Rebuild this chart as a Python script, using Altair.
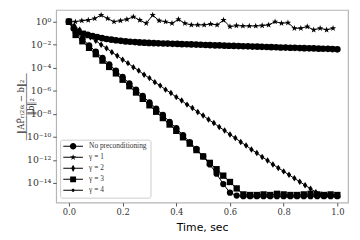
import altair as alt
import pandas as pd

SERIES = ["No preconditioning", "γ = 1", "γ = 2", "γ = 3", "γ = 4"]

# No preconditioning (circles)
t_np = [0, 0.018, 0.035, 0.053, 0.070, 0.088, 0.105, 0.123, 0.140, 0.158,
        0.175, 0.193, 0.211, 0.228, 0.246, 0.263, 0.281, 0.298, 0.316, 0.333,
        0.351, 0.368, 0.386, 0.404, 0.421, 0.439, 0.456, 0.474, 0.491, 0.509,
        0.526, 0.544, 0.561, 0.579, 0.596, 0.614, 0.632, 0.649, 0.667, 0.684,
        0.702, 0.719, 0.737, 0.754, 0.772, 0.789, 0.807, 0.825, 0.842, 0.860,
        0.877, 0.895, 0.912, 0.930, 0.947, 0.965, 0.982, 1.000]
log_np = [0, -0.6, -0.9, -1.05, -1.15, -1.25, -1.33, -1.42, -1.5, -1.56,
          -1.61, -1.66, -1.71, -1.74, -1.77, -1.8, -1.82, -1.84, -1.86, -1.88,
          -1.89, -1.9, -1.92, -1.93, -1.95, -1.96, -1.97, -1.99, -2.0, -2.02,
          -2.03, -2.05, -2.06, -2.08, -2.09, -2.1, -2.12, -2.13, -2.14, -2.16,
          -2.17, -2.18, -2.2, -2.21, -2.22, -2.24, -2.25, -2.26, -2.27, -2.29,
          -2.3, -2.31, -2.32, -2.34, -2.35, -2.36, -2.38, -2.4]

# gamma = 1 (stars)
t_g1 = [0, 0.024, 0.048, 0.072, 0.096, 0.12, 0.144, 0.168, 0.192, 0.216,
        0.24, 0.264, 0.288, 0.312, 0.336, 0.36, 0.384, 0.408, 0.432, 0.456,
        0.48, 0.504, 0.528, 0.552, 0.576, 0.6, 0.624, 0.648, 0.672, 0.696,
        0.72, 0.744, 0.768, 0.792, 0.816, 0.84, 0.864, 0.888, 0.912, 0.936,
        0.96, 0.984]
log_g1 = [0, 0, 0.09, 0.14, 0.28, 0.57, 0.28, 0, 0.09, 0.2,
          0.43, 0.14, -0.14, 0.57, 0.09, 0, -0.14, 0.2, -0.14, -0.28,
          -0.28, -0.28, -0.2, -0.28, 0.14, -0.43, -0.34, -0.37, -0.37, -0.37,
          -0.34, -0.28, 0, -0.14, -0.09, -0.57, -0.57, -0.43, -0.71, -0.57,
          -0.71, -0.57]

# gamma = 2 (thin diamonds)
t_g2 = [0, 0.02, 0.04, 0.06, 0.08, 0.10, 0.12, 0.14, 0.16, 0.18,
        0.20, 0.22, 0.24, 0.26, 0.28, 0.30, 0.32, 0.34, 0.36, 0.38,
        0.40, 0.42, 0.44, 0.46, 0.48, 0.50, 0.52, 0.54, 0.56, 0.58,
        0.60, 0.62, 0.64, 0.66, 0.68, 0.70, 0.72, 0.74, 0.76, 0.78,
        0.80, 0.82, 0.84, 0.86, 0.88, 0.90, 0.92, 0.94, 0.96, 0.98, 1.00]
log_g2 = [0, -0.35, -0.7, -1.0, -1.35, -1.65, -2.0, -2.3, -2.65, -2.95,
          -3.3, -3.6, -3.95, -4.25, -4.6, -4.9, -5.25, -5.55, -5.9, -6.2,
          -6.55, -6.85, -7.2, -7.5, -7.85, -8.15, -8.5, -8.8, -9.15, -9.45,
          -9.8, -10.1, -10.45, -10.75, -11.1, -11.4, -11.75, -12.05, -12.4, -12.7,
          -13.0, -13.3, -13.6, -13.9, -14.2, -14.5, -14.8, -15.0, -15.05, -15.1, -15.1]

# gamma = 3 (squares)
t_g3 = [0, 0.025, 0.05, 0.075, 0.1, 0.125, 0.15, 0.175, 0.2, 0.225,
        0.25, 0.275, 0.3, 0.325, 0.35, 0.375, 0.4, 0.425, 0.45, 0.475,
        0.5, 0.525, 0.55, 0.575, 0.6, 0.625, 0.65, 0.675, 0.7, 0.725,
        0.75, 0.775, 0.8, 0.825, 0.85, 0.875, 0.9, 0.925, 0.95, 0.975, 1.0]
log_g3 = [0, -1.15, -1.7, -2.27, -2.82, -3.38, -3.93, -4.49, -5.04, -5.6,
          -6.15, -6.7, -7.26, -7.82, -8.37, -8.93, -9.48, -10.04, -10.59, -11.15,
          -11.7, -12.26, -12.81, -13.37, -13.92, -14.48, -15.0, -15.05, -15.05, -15.0,
          -15.05, -14.95, -15.0, -15.05, -15.05, -15.0, -14.95, -15.0, -15.05, -15.0, -15.05]

# gamma = 4 (small dots)
t_g4 = [0, 0.025, 0.05, 0.075, 0.1, 0.125, 0.15, 0.175, 0.2, 0.225,
        0.25, 0.275, 0.3, 0.325, 0.35, 0.375, 0.4, 0.425, 0.45, 0.475,
        0.5, 0.525, 0.55, 0.575, 0.6, 0.625, 0.65, 0.675, 0.7, 0.725,
        0.75, 0.775, 0.8, 0.825, 0.85, 0.875, 0.9, 0.925, 0.95, 0.975, 1.0]
log_g4 = [0, -0.9, -1.5, -2.05, -2.6, -3.15, -3.7, -4.25, -4.8, -5.35,
          -5.9, -6.45, -7.0, -7.55, -8.1, -8.7, -9.25, -9.85, -10.45, -11.05,
          -11.7, -12.4, -13.2, -14.1, -14.85, -15.1, -15.15, -15.15, -15.15, -15.15,
          -15.15, -15.15, -15.15, -15.15, -15.15, -15.15, -15.15, -15.15, -15.15, -15.15, -15.15]

Y_TICK_EXPONENTS = [0, -2, -4, -6, -8, -10, -12, -14]
Y_TICK_LABELS = ["10⁰", "10⁻²", "10⁻⁴", "10⁻⁶", "10⁻⁸", "10⁻¹⁰", "10⁻¹²", "10⁻¹⁴"]
X_TICKS = [0.0, 0.2, 0.4, 0.6, 0.8, 1.0]

rows = []
for name, ts, ls in zip(SERIES, [t_np, t_g1, t_g2, t_g3, t_g4],
                        [log_np, log_g1, log_g2, log_g3, log_g4]):
    assert len(ts) == len(ls), name
    for t, l in zip(ts, ls):
        rows.append({"series": name, "t": t, "val": 10 ** l})
df = pd.DataFrame(rows)

STAR = ("M0,-1L0.235,-0.324L0.951,-0.309L0.38,0.124L0.588,0.809L0,0.4"
        "L-0.588,0.809L-0.38,0.124L-0.951,-0.309L-0.235,-0.324Z")
THIN_DIAMOND = "M0,-1L0.68,0L0,1L-0.68,0Z"
PLOT_SHAPES = ["circle", STAR, THIN_DIAMOND, "square", "circle"]
PLOT_SIZES = [46, 40, 80, 46, 9]

# legend glyphs (1 unit = 2.5 px): a thin filled bar (the line) plus the marker
LINE = "M-1.4,-0.2H6.6V0.2H-1.4Z"
LEG_SHAPES = [
    LINE + "M3.92,0A1.32,1.32,0,1,1,1.28,0A1.32,1.32,0,1,1,3.92,0Z",
    LINE + "M2.6,-1.28L2.9,-0.41L3.82,-0.4L3.09,0.16L3.35,1.04L2.6,0.51"
           "L1.85,1.04L2.11,0.16L1.38,-0.4L2.3,-0.41Z",
    LINE + "M2.6,-1.45L3.4,0L2.6,1.45L1.8,0Z",
    LINE + "M1.4,-1.2H3.8V1.2H1.4Z",
    LINE + "M3.24,0A0.64,0.64,0,1,1,1.96,0A0.64,0.64,0,1,1,3.24,0Z",
]

label_expr = " : ".join(
    f"round(log(datum.value)/LN10) == {e} ? '{lab}'"
    for e, lab in zip(Y_TICK_EXPONENTS, Y_TICK_LABELS)
) + " : ''"

x_enc = alt.X("t:Q",
              scale=alt.Scale(domain=[-0.0476, 1.040], nice=False, zero=False),
              axis=alt.Axis(values=X_TICKS, format=".1f", title="Time, sec",
                            labelFont="DejaVu Serif", labelFontSize=8.5,
                            labelColor="#333", titleFont="DejaVu Sans",
                            titleFontSize=11, titleFontWeight="normal",
                            titleColor="#000", titlePadding=5,
                            tickSize=3.5, tickColor="#555", labelPadding=2))
y_enc = alt.Y("val:Q",
              scale=alt.Scale(type="log", domain=[10 ** -15.71, 10 ** 1.02], nice=False),
              axis=alt.Axis(values=[10.0 ** e for e in Y_TICK_EXPONENTS],
                            labelExpr=label_expr,
                            title=["‖AP̂ᵣ₍₂₎ₖ − b‖₂", "――――――――", "‖b‖₂"],
                            titleFont="DejaVu Serif", titleFontSize=8.5,
                            titleFontWeight="normal", titleColor="#333",
                            titleLineHeight=5, titleX=-31, titleBaseline="bottom",
                            labelFont="DejaVu Serif", labelFontSize=9.5,
                            labelColor="#333", tickSize=3.5, tickColor="#555",
                            labelPadding=2))

base = alt.Chart(df)

lines = base.mark_line(color="black", strokeWidth=1).encode(
    x=x_enc, y=y_enc, detail="series:N", order="t:Q")

points = base.mark_point(filled=True, color="black", opacity=1).encode(
    x="t:Q", y="val:Q",
    shape=alt.Shape("series:N", scale=alt.Scale(domain=SERIES, range=PLOT_SHAPES), legend=None),
    size=alt.Size("series:N", scale=alt.Scale(domain=SERIES, range=PLOT_SIZES), legend=None),
)

legend_layer = base.transform_filter("false").mark_point(
    filled=True, color="black", opacity=1
).encode(
    x="t:Q", y="val:Q",
    shape=alt.Shape("series:N", scale=alt.Scale(domain=SERIES, range=LEG_SHAPES),
                    legend=alt.Legend(title=None, orient="none", legendX=4, legendY=132,
                                      padding=3, rowPadding=2.2, symbolSize=25,
                                      symbolStrokeWidth=0,
                                      labelFont="Liberation Serif", labelFontSize=7.5,
                                      labelColor="#333", labelOffset=19,
                                      strokeColor="#cccccc", fillColor="white",
                                      cornerRadius=2, symbolFillColor="black")),
)

chart = alt.layer(lines, points, legend_layer).resolve_scale(
    shape="independent", size="independent"
).properties(
    width=297, height=196,
    autosize=alt.AutoSizeParams(type="none"),
    padding={"left": 49, "top": 0, "right": 4, "bottom": 32},
).configure_view(
    stroke="#b5b5b5", strokeWidth=1.2
).configure_axis(
    domain=False, grid=False
)

chart.save("out.html", embed_options={"renderer": "svg", "actions": False})
